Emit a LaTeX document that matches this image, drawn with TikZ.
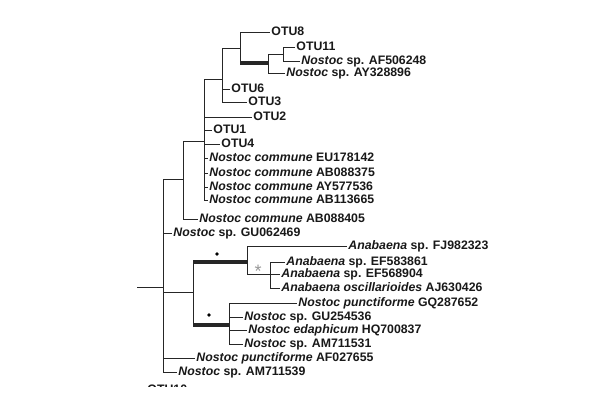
\documentclass[tikz,border=0pt]{standalone}
\usepackage{fontspec}
\setmainfont{Liberation Sans}
\begin{document}
\begin{tikzpicture}[x=1pt, y=-1pt, line width=0.9pt, color=black!85,
  lab/.style={anchor=west, inner xsep=1pt, inner ysep=0pt, text height=9pt, text depth=2.6pt,
    font=\fontsize{12.3}{13}\selectfont\bfseries, text=black!90},
  bar/.style={line width=4pt},
  boot/.style={circle, fill=black, inner sep=0pt, minimum size=3.6pt}]
\useasboundingbox[fill=white] (0,0) rectangle (600,400);
% branch points
\coordinate (stem) at (137,287);
\coordinate (root) at (163,287);
\coordinate (nA) at (183,179);
\coordinate (nC) at (204,141);
\coordinate (nD) at (222,79);
\coordinate (nE) at (240,48);
\coordinate (nF) at (268,63);
\coordinate (nG) at (283,54);
\coordinate (nB) at (193,292);
\coordinate (nH) at (247,262);
\coordinate (nJ) at (270,274);
\coordinate (nI) at (229,325);
% leaves
\node[lab] (otu8) at (270,32) {OTU8};
\node[lab] (otu11) at (295,47) {OTU11};
\node[lab] (af506248) at (300,61) {\textit{Nostoc} sp. AF506248};
\node[lab] (ay328896) at (285,73) {\textit{Nostoc} sp. AY328896};
\node[lab] (otu6) at (230,89) {OTU6};
\node[lab] (otu3) at (247,102) {OTU3};
\node[lab] (otu2) at (252,117) {OTU2};
\node[lab] (otu1) at (212,130) {OTU1};
\node[lab] (otu4) at (220,144) {OTU4};
\node[lab] (eu178142) at (208,158) {\textit{Nostoc commune} EU178142};
\node[lab] (ab088375) at (208,173) {\textit{Nostoc commune} AB088375};
\node[lab] (ay577536) at (208,187) {\textit{Nostoc commune} AY577536};
\node[lab] (ab113665) at (208,200) {\textit{Nostoc commune} AB113665};
\node[lab] (ab088405) at (198,219) {\textit{Nostoc commune} AB088405};
\node[lab] (gu062469) at (172,233) {\textit{Nostoc} sp. GU062469};
\node[lab] (fj982323) at (347,246) {\textit{Anabaena} sp. FJ982323};
\node[lab] (ef583861) at (285,262) {\textit{Anabaena} sp. EF583861};
\node[lab] (ef568904) at (280,274) {\textit{Anabaena} sp. EF568904};
\node[lab] (aj630426) at (280,288) {\textit{Anabaena oscillarioides} AJ630426};
\node[lab] (gq287652) at (297,303) {\textit{Nostoc punctiforme} GQ287652};
\node[lab] (gu254536) at (243,317) {\textit{Nostoc} sp. GU254536};
\node[lab] (hq700837) at (247,330) {\textit{Nostoc edaphicum} HQ700837};
\node[lab] (am711531) at (243,344) {\textit{Nostoc} sp. AM711531};
\node[lab] (af027655) at (195,358) {\textit{Nostoc punctiforme} AF027655};
\node[lab] (am711539) at (177,372) {\textit{Nostoc} sp. AM711539};
\begin{scope}
  \clip (0,0) rectangle (600,386);
  \node[lab] (otu10) at (146,390) {OTU10};
\end{scope}
% branches
\draw (stem) -- (root);
\draw (root) |- (nA) (root) |- (gu062469.west) (root) |- (nB)
      (root) |- (af027655.west) (root) |- (am711539.west);
\draw (nA) |- (nC) (nA) |- (ab088405.west);
\draw (nC) |- (nD) (nC) |- (otu2.west) (nC) |- (otu1.west) (nC) |- (otu4.west)
      (nC) |- (eu178142.west) (nC) |- (ab088375.west) (nC) |- (ay577536.west)
      (nC) |- (ab113665.west);
\draw (nD) |- (nE) (nD) |- (otu6.west) (nD) |- (otu3.west);
\draw (nE) |- (otu8.west) (nE) |- (nF);
\draw[bar] (nE |- nF) -- (nF);
\draw (nF) |- (nG) (nF) |- (ay328896.west);
\draw (nG) |- (otu11.west) (nG) |- (af506248.west);
\draw (nB) |- (nH) (nB) |- (nI);
\draw[bar] (nB |- nH) -- (nH);
\draw[bar] (nB |- nI) -- (nI);
\draw (nH) |- (fj982323.west) (nH) |- (nJ);
\draw (nJ) |- (ef583861.west) (nJ) |- (ef568904.west) (nJ) |- (aj630426.west);
\draw (nI) |- (gq287652.west) (nI) |- (gu254536.west) (nI) |- (hq700837.west)
      (nI) |- (am711531.west);
% support marks
\node[boot] (dotH) at (217,254) {};
\node[boot] (dotI) at (209,315) {};
\node[text=black!40, inner sep=0pt, font=\fontsize{18}{18}\selectfont] (star) at (258,271.5) {*};
\end{tikzpicture}
\end{document}
